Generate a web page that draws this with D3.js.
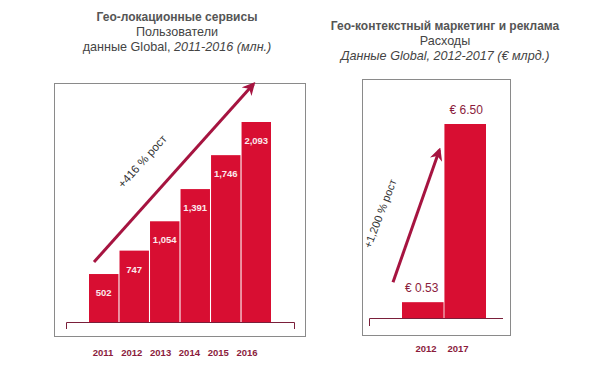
<!DOCTYPE html>
<html><head><meta charset="utf-8">
<script src="https://cdn.jsdelivr.net/npm/d3@7"></script>
<style>
html,body{margin:0;padding:0;background:#fff;}
svg{display:block;font-family:"Liberation Sans",Arial,sans-serif;}
</style></head>
<body>
<svg id="c" width="608" height="383"></svg>
<script>
// ---- data ----
const usersYears = ["2011","2012","2013","2014","2015","2016"];
const usersValues = [502, 747, 1054, 1391, 1746, 2093];
const usersLabels = ["502","747","1,054","1,391","1,746","2,093"];
const spendYears = ["2012","2017"];
const spendValues = [0.53, 6.50];
const spendLabels = ["€ 0.53","€ 6.50"];
const leftTitle = ["Гео-локационные сервисы","Пользователи"];
const rightTitle = ["Гео-контекстный  маркетинг и реклама","Расходы"];
const leftGrowth = "+416 % рост";
const rightGrowth = "+1,200 % рост";

const BAR = "#d80e32", AXIS = "#7a1f3a", LAB = "#8b1c3c", ARROW = "#a61440";
const svg = d3.select("#c");

const defs = svg.append("defs");
defs.append("marker").attr("id","ah").attr("viewBox","0 0 10 10")
  .attr("refX",8).attr("refY",5).attr("markerWidth",4.3).attr("markerHeight",4.3)
  .attr("orient","auto").attr("markerUnits","strokeWidth")
  .append("path").attr("d","M0,0 L10,5 L0,10 L3,5 Z").attr("fill",ARROW);

// ---- titles ----
function titles(cx, y0, lines, sub) {
  const g = svg.append("g").attr("fill","#555").attr("text-anchor","middle");
  g.append("text").attr("x",cx).attr("y",y0).attr("font-size",12).attr("font-weight","bold").text(lines[0]);
  g.append("text").attr("x",cx).attr("y",y0+15).attr("font-size",12.6).attr("fill","#444").text(lines[1]);
  const t = g.append("text").attr("x",cx).attr("y",y0+30).attr("font-size",12.6).attr("fill","#444");
  sub(t);
}
titles(177, 21, leftTitle, t => {
  t.append("tspan").text("данные Global, ");
  t.append("tspan").attr("font-style","italic").text("2011-2016 (млн.)");
});
titles(445, 30, rightTitle, t => {
  t.append("tspan").attr("font-style","italic").text("Данные Global, 2012-2017 (€ млрд.)");
});

// ---- frames ----
svg.append("rect").attr("x",54.5).attr("y",83.5).attr("width",251).attr("height",253)
  .attr("fill","none").attr("stroke","#8a8a8a");
svg.append("rect").attr("x",362.5).attr("y",79.5).attr("width",148).attr("height",256)
  .attr("fill","none").attr("stroke","#8a8a8a");

// ---- left chart ----
const xL = d3.scaleBand().domain(usersYears).range([89, 271]).paddingInner(0.035);
const yL = d3.scaleLinear().domain([0, d3.max(usersValues)]).range([322, 122]);
const gl = svg.append("g");
gl.selectAll("rect").data(usersValues).join("rect")
  .attr("x",(d,i)=>xL(usersYears[i])).attr("width",xL.bandwidth())
  .attr("y",d=>yL(d)).attr("height",d=>yL(0)-yL(d)).attr("fill",BAR);
gl.selectAll("text.v").data(usersValues).join("text").attr("class","v")
  .attr("x",(d,i)=>xL(usersYears[i])+xL.bandwidth()/2).attr("y",d=>yL(d)+22)
  .attr("text-anchor","middle").attr("fill","#fbe9ec").attr("font-size",9.5).attr("font-weight","bold")
  .text((d,i)=>usersLabels[i]);
// baseline
gl.append("path").attr("d",`M66.5,329 V322.5 H294.5 V329`).attr("fill","none").attr("stroke",AXIS);
// year labels
const xLlab = d3.scaleBand().domain(usersYears).range([88.6, 261.4]);
const axL = svg.append("g").attr("transform","translate(0,349)")
  .call(d3.axisBottom(xLlab).tickSize(0).tickPadding(0));
axL.select(".domain").remove();
axL.selectAll("text").attr("fill",LAB).attr("font-size",9.5).attr("font-weight","bold")
  .attr("font-family","Liberation Sans, Arial, sans-serif");
// arrow
const la = {x1: xL("2011")+5, y1: yL(502)-12, x2: xL("2016")+12, y2: yL(2093)-38};
svg.append("line").attr("x1",la.x1).attr("y1",la.y1).attr("x2",la.x2).attr("y2",la.y2)
  .attr("stroke",ARROW).attr("stroke-width",3).attr("marker-end","url(#ah)");
svg.append("text").attr("transform","translate(143,162) rotate(-48)")
  .attr("text-anchor","middle").attr("dominant-baseline","middle")
  .attr("font-size",11.5).attr("fill","#333").text(leftGrowth);

// ---- right chart ----
const xR = d3.scaleBand().domain(spendYears).range([402, 486]).paddingInner(0.02);
const yR = d3.scaleLinear().domain([0, d3.max(spendValues)]).range([318, 124]);
const gr = svg.append("g");
gr.selectAll("rect").data(spendValues).join("rect")
  .attr("x",(d,i)=>xR(spendYears[i])).attr("width",xR.bandwidth())
  .attr("y",d=>yR(d)).attr("height",d=>yR(0)-yR(d)).attr("fill",BAR);
gr.selectAll("text.v").data(spendValues).join("text").attr("class","v")
  .attr("x",(d,i)=>xR(spendYears[i])+xR.bandwidth()/2 - (i===0?1:-1))
  .attr("y",d=>yR(d)-10)
  .attr("text-anchor","middle").attr("fill",LAB).attr("font-size",12)
  .text((d,i)=>spendLabels[i]);
gr.append("path").attr("d",`M369.5,326 V318.5 H503`).attr("fill","none").attr("stroke",AXIS);
const xRlab = d3.scaleBand().domain(spendYears).range([410, 474]);
const axR = svg.append("g").attr("transform","translate(0,345)")
  .call(d3.axisBottom(xRlab).tickSize(0).tickPadding(0));
axR.select(".domain").remove();
axR.selectAll("text").attr("fill",LAB).attr("font-size",9.5).attr("font-weight","bold")
  .attr("font-family","Liberation Sans, Arial, sans-serif");
const ra = {x1: xR("2012")-9, y1: yR(0.53)-20, x2: xR("2017")-5, y2: yR(6.5)+26};
svg.append("line").attr("x1",ra.x1).attr("y1",ra.y1).attr("x2",ra.x2).attr("y2",ra.y2)
  .attr("stroke",ARROW).attr("stroke-width",3).attr("marker-end","url(#ah)");
svg.append("text").attr("transform","translate(381,214) rotate(-69)")
  .attr("text-anchor","middle").attr("dominant-baseline","middle")
  .attr("font-size",11).attr("fill","#333").text(rightGrowth);
</script>
</body></html>
